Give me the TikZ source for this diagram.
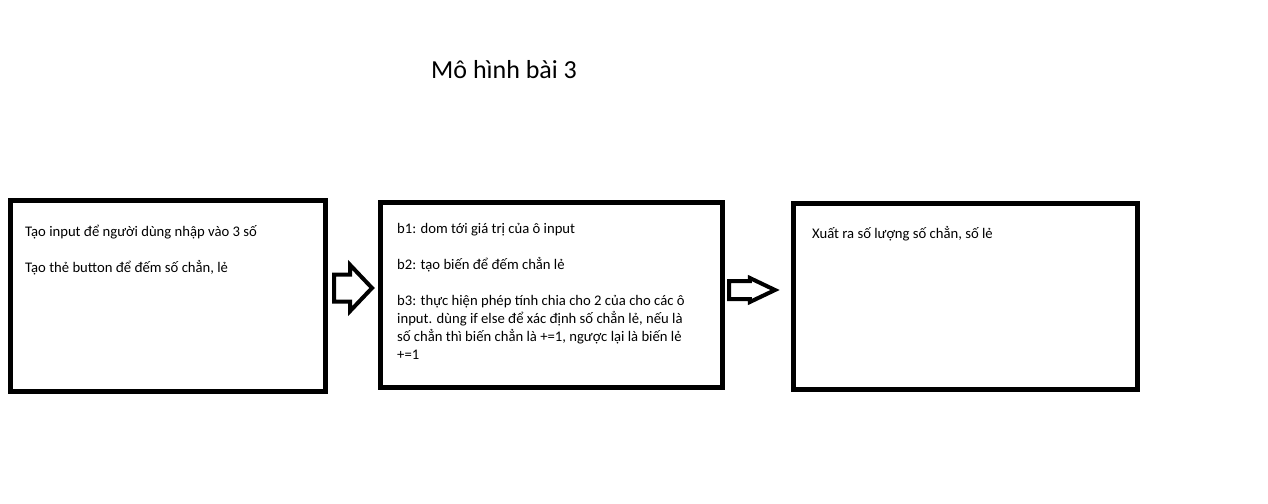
\documentclass[tikz,border=0pt]{standalone}
\usepackage{fontspec}
\setmainfont{Carlito}
\usetikzlibrary{shapes.arrows}

\tikzset{
  stepbox/.style={draw, line width=5pt, rectangle, inner sep=0pt},
  blockarrow/.style={draw, line width=4pt, single arrow, inner xsep=0pt, minimum width=0pt, line join=miter, anchor=tail},
  txt/.style={anchor=base west, inner sep=0pt, font=\fontsize{14.67}{18}\selectfont}
}
\newcommand{\boxtext}[1]{\begin{minipage}[t]{320pt}\raggedright #1\end{minipage}}

\begin{document}
\begin{tikzpicture}[x=1pt, y=-1pt]

    \useasboundingbox (0,0) rectangle (1268,503);

    \node[anchor=base west, inner sep=0pt, font=\fontsize{26}{30}\selectfont] (title) at (431,78.5) {Mô hình bài 3};

    % the three steps
    \node[stepbox, minimum width=315, minimum height=191] (input) at (168,296) {};
    \node[stepbox, minimum width=342, minimum height=185] (process) at (551.5,295) {};
    \node[stepbox, minimum width=344, minimum height=186] (output) at (965.5,296.5) {};

    \node[txt] (inputtxt) at (25,236) {\boxtext{Tạo input để người dùng nhập vào 3 số\\[18pt]
      Tạo thẻ button để đếm số chẳn, lẻ}};
    \node[txt] (processtxt) at (397,233) {\boxtext{b1: dom tới giá trị của ô input\\[18pt]
      b2: tạo biến để đếm chẳn lẻ\\[18pt]
      b3: thực hiện phép tính chia cho 2 của cho các ô\\
      input. dùng if else để xác định số chẳn lẻ, nếu là\\
      số chẳn thì biến chẳn là +=1, ngược lại là biến lẻ\\
      +=1}};
    \node[txt] (outputtxt) at (812,238) {Xuất ra số lượng số chẳn, số lẻ};

    % arrows in between
    \node[blockarrow, inner ysep=11.5pt, minimum height=38pt, single arrow head extend=9.5pt,
      single arrow tip angle=93] (arr1) at (332,288) {};
    \node[blockarrow, inner ysep=7pt, minimum height=46pt, single arrow head extend=3pt,
      single arrow tip angle=51] (arr2) at (727,290) {};
\end{tikzpicture}
\end{document}
